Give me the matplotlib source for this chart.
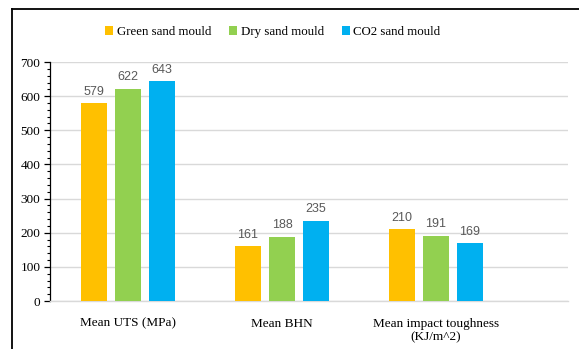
import matplotlib.pyplot as plt
import numpy as np
from matplotlib.lines import Line2D
from matplotlib.ticker import MultipleLocator

categories = ["Mean UTS (MPa)", "Mean BHN", "Mean impact toughness\n(KJ/m^2)"]
series_names = ["Green sand mould", "Dry sand mould", "CO2 sand mould"]
green_sand = [579, 161, 210]
dry_sand = [622, 188, 191]
co2_sand = [643, 235, 169]

colors = ["#FFC000", "#92D050", "#00B0F0"]
serif = "Liberation Serif"

fig = plt.figure(figsize=(5.79, 3.49), dpi=100)
ax = fig.add_axes([0.0864, 0.1375, 0.8946, 0.6848])

x = np.arange(len(categories))
width = 0.169
step = 0.221
for i, (name, vals) in enumerate(zip(series_names, [green_sand, dry_sand, co2_sand])):
    pos = x + (i - 1) * step
    bars = ax.bar(pos, vals, width, color=colors[i], label=name, zorder=3)
    for b, v in zip(bars, vals):
        ax.text(b.get_x() + b.get_width() / 2, v + 16, str(v), ha="center", va="bottom",
                fontsize=9, color="#595959", family="Liberation Sans")

ax.set_xlim(-0.506, 2.857)
ax.set_ylim(0, 700)
ax.yaxis.set_major_locator(MultipleLocator(100))
ax.yaxis.set_minor_locator(MultipleLocator(20))
ax.yaxis.grid(True, color="#D9D9D9", linewidth=1.0, zorder=0)
ax.set_axisbelow(True)

for s in ["top", "right"]:
    ax.spines[s].set_visible(False)
ax.spines["left"].set_color("black")
ax.spines["left"].set_linewidth(0.9)
ax.spines["bottom"].set_color("#D9D9D9")
ax.spines["bottom"].set_linewidth(1.0)

ax.tick_params(axis="y", which="major", length=4, width=0.9, labelsize=9.5, pad=3)
ax.tick_params(axis="y", which="minor", length=2.5, width=0.8)
ax.tick_params(axis="x", length=0, pad=12)
ax.set_xticks(x)
ax.set_xticklabels(categories, fontsize=9.5, family=serif, linespacing=1.2)
for lab in ax.get_yticklabels():
    lab.set_family(serif)

ax.legend(loc="center", bbox_to_anchor=(0.43, 1.125), ncol=3, frameon=False,
          prop={"family": serif, "size": 9.3}, handlelength=0.6, handleheight=0.6,
          handletextpad=0.3, columnspacing=1.4)

# outer frame on the left and top edges
fig.add_artist(Line2D([12 / 579, 12 / 579], [0, 1 - 9 / 349], color="black",
                      linewidth=1.3, transform=fig.transFigure))
fig.add_artist(Line2D([12 / 579, 1], [1 - 9 / 349, 1 - 9 / 349], color="black",
                      linewidth=1.3, transform=fig.transFigure))

fig.savefig("out.png", dpi=100, facecolor="white")
